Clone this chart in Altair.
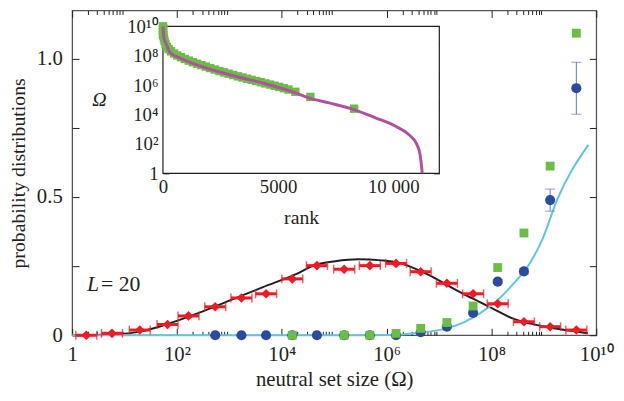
import altair as alt
import pandas as pd

# ---------------- main panel data (x given as log10 of neutral set size) ----------------
red_logx = [0.27, 0.76, 1.29, 1.82, 2.22, 2.73, 3.23, 3.70, 4.20, 4.67,
            5.19, 5.68, 6.18, 6.65, 7.15, 7.65, 8.12, 8.62, 9.12, 9.62]
red_p = [0.0, 0.007, 0.019, 0.039, 0.070, 0.103, 0.135, 0.150, 0.204, 0.252,
         0.239, 0.252, 0.260, 0.230, 0.188, 0.150, 0.114, 0.049, 0.031, 0.019]
red_xerr_decades = [0.2] * len(red_logx)

blue_logx = [2.73, 3.23, 3.70, 4.20, 4.67, 5.19, 5.68, 6.18, 6.65, 7.15,
             7.65, 8.12, 8.62, 9.12, 9.62]
blue_p = [0, 0, 0, 0, 0, 0, 0, 0, 0.011, 0.031, 0.081, 0.194, 0.231, 0.489, 0.894]
blue_err = [0, 0, 0, 0, 0, 0, 0, 0, 0, 0, 0, 0.006, 0.010, 0.040, 0.094]

green_logx = [4.20, 5.19, 5.68, 6.18, 6.65, 7.15, 7.65, 8.12, 8.62, 9.12, 9.62]
green_p = [0, 0, 0, 0.007, 0.025, 0.046, 0.106, 0.245, 0.370, 0.612, 1.093]

black_logx = [0.0, 0.75, 1.32, 1.76, 2.39, 3.01, 3.64, 4.27, 4.64, 5.02, 5.46, 5.90,
              6.21, 6.52, 6.84, 7.15, 7.46, 7.78, 8.09, 8.40, 8.72, 9.03, 9.34, 9.66, 9.84]
black_p = [0.0, 0.003, 0.014, 0.037, 0.079, 0.126, 0.174, 0.221, 0.255, 0.268, 0.275, 0.271,
           0.263, 0.243, 0.215, 0.182, 0.150, 0.120, 0.090, 0.061, 0.043, 0.031, 0.021, 0.013, 0.007]

cyan_logx = [0.0, 5.5, 6.0, 6.3, 6.52, 6.84, 7.14, 7.46, 7.78, 8.08, 8.40, 8.72, 8.97, 9.25, 9.85]
cyan_p = [0.0, 0.0, 0.001, 0.003, 0.007, 0.014, 0.025, 0.046, 0.079, 0.121, 0.182, 0.257,
          0.346, 0.489, 0.689]

# ---------------- inset data (rank vs log10 Omega) ----------------
inset_line_rank = [0, 10, 30, 80, 150, 288, 785, 1502, 2931, 4365, 5794, 6365, 7223,
                   8296, 9227, 10086, 10657, 11017, 11159, 11232, 11258]
inset_line_logO = [10.0, 9.7, 9.35, 9.0, 8.75, 8.26, 7.81, 7.36, 6.69, 6.13, 5.46, 5.12, 4.79,
                   4.34, 3.78, 3.22, 2.66, 1.99, 1.32, 0.42, 0.0]

inset_green_rank = [0, 0, 0, 0, 10, 20, 40, 70, 110, 170, 250, 350, 480, 620, 780, 950, 1120,
                    1300, 1480, 1670, 1860, 2050, 2250, 2450, 2650, 2850, 3050, 3250, 3450,
                    3650, 3850, 4050, 4250, 4450, 4650, 4850, 5050, 5250, 5450, 5750, 6400, 8300]
inset_green_logO = [10.0, 9.8, 9.6, 9.4, 9.9, 9.4, 9.2, 9.0, 8.8, 8.6, 8.45, 8.3, 8.15, 8.02,
                    7.9, 7.78, 7.67, 7.56, 7.46, 7.36, 7.26, 7.16, 7.06, 6.96, 6.87, 6.78, 6.69,
                    6.6, 6.52, 6.44, 6.36, 6.28, 6.2, 6.12, 6.04, 5.96, 5.88, 5.79, 5.7, 5.55,
                    5.2, 4.4]

# ---------------- tick / label lists ----------------
main_x_major = [1e0, 1e2, 1e4, 1e6, 1e8, 1e10]
main_x_labels = ['1', '10²', '10⁴', '10⁶', '10⁸', '10¹⁰']
main_x_minor = [k * 10.0 ** (2 * m) for m in range(5) for k in range(2, 10)]
main_y_labels_at = [0, 0.5, 1.0]
main_y_ticks = [0, 0.25, 0.5, 0.75, 1.0]
inset_x_labels_at = [0, 5000, 10000]
inset_x_labels = ['0', '5000', '10 000']
inset_x_major = [0, 5000, 10000]
inset_x_minor = [1000, 2000, 3000, 4000, 6000, 7000, 8000, 9000, 11000]
inset_y_major = [1e0, 1e2, 1e4, 1e6, 1e8, 1e10]
inset_y_labels = ['1', '10²', '10⁴', '10⁶', '10⁸', '10¹⁰']
inset_y_minor = [k * 10.0 ** (2 * m) for m in range(5) for k in range(2, 10)]

# ---------------- style ----------------
INK = '#231f20'
FRAME = '#555555'
RED = '#ec1c24'
BLUE = '#2b4aa0'
BLUE_ERR = '#5f78bd'
GREEN = '#6cbd45'
CYAN = '#5ec6de'
MAGENTA = '#b0519f'
FONT = 'Liberation Serif'

W, H = 531, 329
SC_MX = dict(type='log', domain=[1, 1e10], nice=False)
SC_MY = dict(type='linear', domain=[0, 1.175], nice=False, zero=False)
SC_IX = dict(type='linear', domain=[0, 12000], range=[92, 372], nice=False, zero=False)
SC_IY = dict(type='log', domain=[1, 1e10], range=[165, 16], nice=False)


def X(field, sc, axis=None):
    return alt.X(field, type='quantitative', scale=alt.Scale(**sc), axis=axis)


def Y(field, sc, axis=None):
    return alt.Y(field, type='quantitative', scale=alt.Scale(**sc), axis=axis)


def tick_axis(orient, offset, values, size):
    return alt.Axis(orient=orient, offset=offset, values=values, tickSize=size,
                    labels=False, domain=False, grid=False, title=None,
                    tickColor=INK, tickWidth=1)


# ---------------- data frames ----------------
red_df = pd.DataFrame({
    'x': [10 ** v for v in red_logx],
    'lo': [10 ** (v - e) for v, e in zip(red_logx, red_xerr_decades)],
    'hi': [10 ** (v + e) for v, e in zip(red_logx, red_xerr_decades)],
    'p': red_p,
})
red_caps = pd.DataFrame({'x': list(red_df['lo']) + list(red_df['hi']), 'p': red_p + red_p})

blue_df = pd.DataFrame({'x': [10 ** v for v in blue_logx], 'p': blue_p, 'e': blue_err})
blue_df['lo'] = blue_df['p'] - blue_df['e']
blue_df['hi'] = blue_df['p'] + blue_df['e']
blue_eb = blue_df[blue_df['e'] > 0]
blue_caps = pd.DataFrame({'x': list(blue_eb['x']) * 2, 'p': list(blue_eb['lo']) + list(blue_eb['hi'])})

green_df = pd.DataFrame({'x': [10 ** v for v in green_logx], 'p': green_p})
black_df = pd.DataFrame({'x': [10 ** v for v in black_logx], 'p': black_p})
cyan_df = pd.DataFrame({'x': [10 ** v for v in cyan_logx], 'p': cyan_p})

inset_line_df = pd.DataFrame({'r': inset_line_rank, 'o': [10 ** v for v in inset_line_logO]})
inset_green_df = pd.DataFrame({'r': inset_green_rank, 'o': [10 ** v for v in inset_green_logO]})
inset_box = pd.DataFrame({'r0': [0], 'r1': [12000], 'o0': [1], 'o1': [1e10]})

carrier = pd.DataFrame({'mx': [1, 1e10], 'my': [0, 1.0], 'ix': [0, 12000], 'iy': [1, 1e10]})

# ---------------- inset layers ----------------
inset_bg = alt.Chart(inset_box).mark_rect(fill='white', stroke=INK, strokeWidth=1.2).encode(
    x=X('r0', SC_IX), x2='r1', y=Y('o0', SC_IY), y2='o1')
inset_green = alt.Chart(inset_green_df).mark_square(size=72, color=GREEN, opacity=1).encode(
    x=X('r', SC_IX), y=Y('o', SC_IY))
inset_line = alt.Chart(inset_line_df).mark_line(color=MAGENTA, strokeWidth=3, interpolate='monotone').encode(
    x=X('r', SC_IX), y=Y('o', SC_IY))

# ---------------- main layers ----------------
black_line = alt.Chart(black_df).mark_line(color=INK, strokeWidth=2, interpolate='monotone').encode(
    x=X('x', SC_MX), y=Y('p', SC_MY))
cyan_line = alt.Chart(cyan_df).mark_line(color=CYAN, strokeWidth=2, interpolate='monotone').encode(
    x=X('x', SC_MX), y=Y('p', SC_MY))
red_bars = alt.Chart(red_df).mark_rule(color=RED, strokeWidth=3).encode(
    x=X('lo', SC_MX), x2='hi', y=Y('p', SC_MY))
red_cap = alt.Chart(red_caps).mark_tick(color=RED, orient='vertical', size=9, thickness=1.5).encode(
    x=X('x', SC_MX), y=Y('p', SC_MY))
red_pts = alt.Chart(red_df).mark_point(shape='diamond', filled=True, size=95, color=RED, opacity=1).encode(
    x=X('x', SC_MX), y=Y('p', SC_MY))
blue_bars = alt.Chart(blue_eb).mark_rule(color=BLUE_ERR, strokeWidth=1).encode(
    x=X('x', SC_MX), y=Y('lo', SC_MY), y2='hi')
blue_cap = alt.Chart(blue_caps).mark_tick(color=BLUE_ERR, orient='horizontal', size=10, thickness=1).encode(
    x=X('x', SC_MX), y=Y('p', SC_MY))
blue_pts = alt.Chart(blue_df).mark_circle(size=105, color=BLUE, opacity=1).encode(
    x=X('x', SC_MX), y=Y('p', SC_MY))
green_pts = alt.Chart(green_df).mark_square(size=80, color=GREEN, opacity=1).encode(
    x=X('x', SC_MX), y=Y('p', SC_MY))

ann_L = alt.Chart(pd.DataFrame({'x': [10 ** 0.40], 'p': [0.186], 't': ['L']})).mark_text(
    font=FONT, fontSize=22, fontStyle='italic', align='center', baseline='middle', color=INK).encode(
    x=X('x', SC_MX), y=Y('p', SC_MY), text='t:N')
ann_eq = alt.Chart(pd.DataFrame({'x': [10 ** 0.55], 'p': [0.186], 't': ['= 20']})).mark_text(
    font=FONT, fontSize=22, align='left', baseline='middle', color=INK).encode(
    x=X('x', SC_MX), y=Y('p', SC_MY), text='t:N')

# ---------------- axis carrier layers ----------------
def xcar(field, sc, axis):
    return alt.Chart(carrier).mark_point(opacity=0).encode(x=X(field, sc, axis))


def ycar(field, sc, axis):
    return alt.Chart(carrier).mark_point(opacity=0).encode(y=Y(field, sc, axis))


def label_expr(labels, divisor):
    arr = '[' + ','.join("'" + s + "'" for s in labels) + ']'
    return arr + '[round(log(datum.value)/LN10/' + str(divisor) + ')]'


main_x_lab = alt.Axis(orient='bottom', values=main_x_major, labelExpr=label_expr(main_x_labels, 2),
                      tickSize=0, labelPadding=9, domain=False, grid=False, labelFlush=False,
                      labelOverlap=False, title='neutral set size (Ω)', titlePadding=4)
main_y_lab = alt.Axis(orient='left', values=main_y_labels_at,
                      labelExpr="datum.value == 0 ? '0' : format(datum.value, '.1f')",
                      tickSize=0, labelPadding=10, domain=False, grid=False,
                      title='probability distributions', titleFontSize=20, titlePadding=8)
inset_x_lab = alt.Axis(orient='bottom', offset=-164, values=inset_x_labels_at,
                       labelExpr="['0','5000','10 000'][round(datum.value/5000)]",
                       tickSize=0, labelPadding=4, domain=False, grid=False, labelFlush=False,
                       labelFontSize=19, title='rank', titleFontSize=20, titlePadding=12)
inset_y_lab = alt.Axis(orient='left', offset=-92, values=inset_y_major,
                       labelExpr=label_expr(inset_y_labels, 2), tickSize=0, labelPadding=5,
                       domain=False, grid=False, labelFontSize=19, labelOverlap=False,
                       title='Ω', titleFontStyle='italic', titleFontSize=20, titleAngle=0,
                       titleX=-65, titleY=90, titleAlign='center', titleBaseline='middle')

carriers = [
    xcar('mx', SC_MX, main_x_lab),
    xcar('mx', SC_MX, tick_axis('top', -H, main_x_major, 7)),
    xcar('mx', SC_MX, tick_axis('top', -H, main_x_minor, 4)),
    xcar('mx', SC_MX, tick_axis('bottom', -H, main_x_major, 7)),
    xcar('mx', SC_MX, tick_axis('bottom', -H, main_x_minor, 4)),
    ycar('my', SC_MY, main_y_lab),
    ycar('my', SC_MY, tick_axis('right', -W, main_y_ticks, 7)),
    ycar('my', SC_MY, tick_axis('left', -W, main_y_ticks, 7)),
    xcar('ix', SC_IX, inset_x_lab),
    xcar('ix', SC_IX, tick_axis('top', -165, inset_x_major, 7)),
    xcar('ix', SC_IX, tick_axis('top', -165, inset_x_minor, 4)),
    xcar('ix', SC_IX, tick_axis('bottom', 16 - H, inset_x_major, 7)),
    xcar('ix', SC_IX, tick_axis('bottom', 16 - H, inset_x_minor, 4)),
    ycar('iy', SC_IY, inset_y_lab),
    ycar('iy', SC_IY, tick_axis('right', 92 - W, inset_y_major, 6)),
    ycar('iy', SC_IY, tick_axis('right', 92 - W, inset_y_minor, 3)),
    ycar('iy', SC_IY, tick_axis('left', -372, inset_y_major, 6)),
    ycar('iy', SC_IY, tick_axis('left', -372, inset_y_minor, 3)),
]

layers = [inset_bg, inset_green, inset_line,
          black_line, cyan_line, red_bars, red_cap, red_pts,
          blue_bars, blue_cap, blue_pts, green_pts, ann_L, ann_eq] + carriers

chart = alt.layer(*layers).resolve_scale(x='independent', y='independent').properties(
    width=W, height=H,
    autosize=alt.AutoSizeParams(type='none'),
    padding={'left': 65, 'top': 0, 'right': 20, 'bottom': 60},
    background='white',
).configure_view(stroke=FRAME, strokeWidth=1.3).configure_axis(
    labelFont=FONT, labelFontSize=21, labelColor=INK,
    titleFont=FONT, titleFontSize=21, titleFontWeight='normal', titleColor=INK,
)

chart.save('out.html', embed_options={'renderer': 'svg', 'actions': False})
